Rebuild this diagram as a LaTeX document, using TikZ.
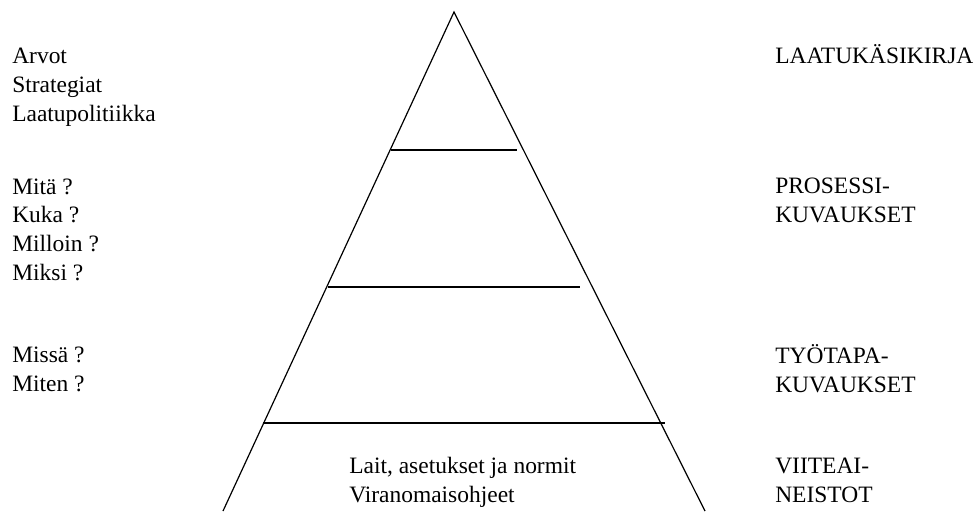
\documentclass[tikz,border=0pt]{standalone}
\usepackage{fontspec}
\setmainfont{Liberation Serif}
\usepackage{tikz}

\begin{document}
\begin{tikzpicture}[x=0.75pt,y=-0.75pt,
  lbl/.style={anchor=base west,inner sep=0pt,align=left,
    font=\fontsize{17.6}{21.5}\selectfont}]
  \useasboundingbox (0,0) rectangle (980,511);
  % pyramid
  \coordinate (apex) at (454,12);
  \coordinate (bl) at (223,511);
  \coordinate (br) at (705,511);
  \draw[line width=0.9pt] (bl) -- (apex) -- (br);
  % levels
  \foreach \y/\xa/\xb in {150/391/517,287/328/580,423/263/665}
    {\draw[line width=0.9pt] (\xa,\y) -- (\xb,\y);}
  % left labels (base = last line)
  \node[lbl] (values) at (12,121) {Arvot\\Strategiat\\Laatupolitiikka};
  \node[lbl] (what) at (12,280) {Mitä ?\\Kuka ?\\Milloin ?\\Miksi ?};
  \node[lbl] (where) at (12,391) {Missä ?\\Miten ?};
  % inside the base
  \node[lbl] (laws) at (349,502) {Lait, asetukset ja normit\\Viranomaisohjeet};
  % right labels
  \node[lbl] (manual) at (775,63) {LAATUKÄSIKIRJA};
  \node[lbl] (process) at (775,222) {PROSESSI-\\KUVAUKSET};
  \node[lbl] (work) at (775,392) {TYÖTAPA-\\KUVAUKSET};
  \node[lbl] (refs) at (775,502) {VIITEAI-\\NEISTOT};
\end{tikzpicture}
\end{document}
